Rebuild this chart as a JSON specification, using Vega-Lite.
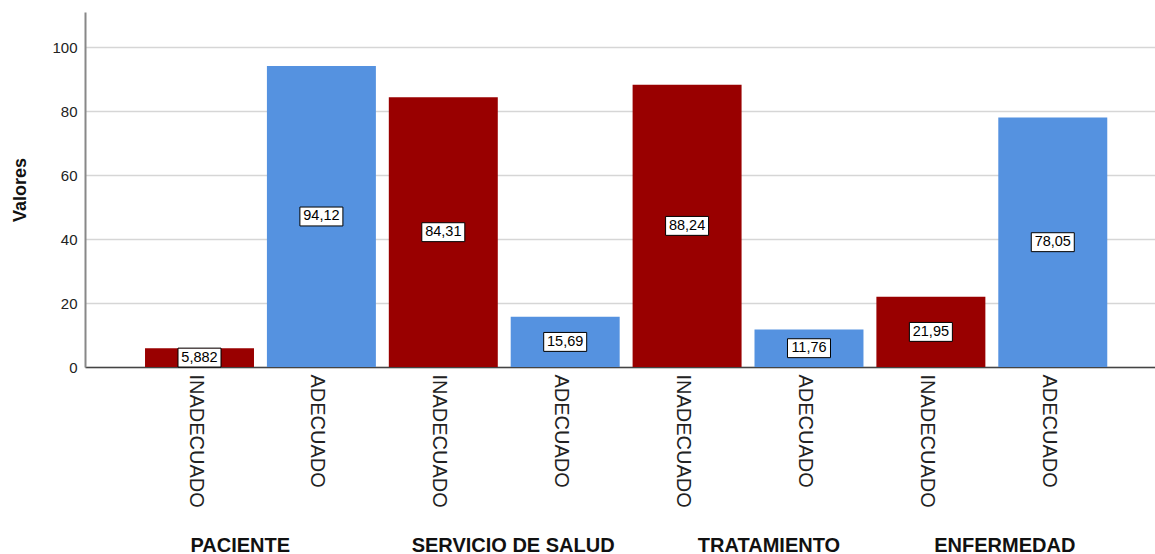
{
  "$schema": "https://vega.github.io/schema/vega-lite/v6.json",
  "width": 1070,
  "height": 355,
  "autosize": {"type": "none"},
  "padding": {"left": 85, "top": 12, "right": 0, "bottom": 187},
  "background": "white",
  "config": {
    "view": {"stroke": null},
    "font": "Liberation Sans"
  },
  "layer": [
    {
      "data": {
        "values": [
          {"clave": "PACIENTE|INADECUADO", "grupo": "PACIENTE", "categoria": "INADECUADO", "valor": 5.882, "etiqueta": "5,882"},
          {"clave": "PACIENTE|ADECUADO", "grupo": "PACIENTE", "categoria": "ADECUADO", "valor": 94.12, "etiqueta": "94,12"},
          {"clave": "SERVICIO DE SALUD|INADECUADO", "grupo": "SERVICIO DE SALUD", "categoria": "INADECUADO", "valor": 84.31, "etiqueta": "84,31"},
          {"clave": "SERVICIO DE SALUD|ADECUADO", "grupo": "SERVICIO DE SALUD", "categoria": "ADECUADO", "valor": 15.69, "etiqueta": "15,69"},
          {"clave": "TRATAMIENTO|INADECUADO", "grupo": "TRATAMIENTO", "categoria": "INADECUADO", "valor": 88.24, "etiqueta": "88,24"},
          {"clave": "TRATAMIENTO|ADECUADO", "grupo": "TRATAMIENTO", "categoria": "ADECUADO", "valor": 11.76, "etiqueta": "11,76"},
          {"clave": "ENFERMEDAD|INADECUADO", "grupo": "ENFERMEDAD", "categoria": "INADECUADO", "valor": 21.95, "etiqueta": "21,95"},
          {"clave": "ENFERMEDAD|ADECUADO", "grupo": "ENFERMEDAD", "categoria": "ADECUADO", "valor": 78.05, "etiqueta": "78,05"}
        ]
      },
      "transform": [{"calculate": "datum.valor / 2", "as": "mitad"}],
      "encoding": {
        "x": {
          "field": "clave",
          "type": "nominal",
          "sort": null,
          "scale": {"paddingInner": 0.106, "paddingOuter": 0.442, "align": 0.557},
          "axis": {
            "orient": "bottom",
            "title": null,
            "labelExpr": "split(datum.value, '|')[1]",
            "labelAngle": 90,
            "labelAlign": "left",
            "labelBaseline": "middle",
            "labelFont": "Liberation Sans",
            "labelFontSize": 20,
            "labelColor": "#222222",
            "labelPadding": 7,
            "labelOffset": -4,
            "ticks": false,
            "domainColor": "#444444",
            "domainWidth": 1.5,
            "grid": false
          }
        }
      },
      "layer": [
        {
          "mark": {"type": "bar"},
          "encoding": {
            "y": {
              "field": "valor",
              "type": "quantitative",
              "scale": {"domain": [0, 111], "nice": false},
              "axis": {
                "title": "Valores",
                "titleFont": "Liberation Sans",
                "titleFontSize": 18,
                "titleFontWeight": "bold",
                "titleColor": "#111111",
                "titlePadding": 22,
                "values": [0, 20, 40, 60, 80, 100],
                "labelFont": "Liberation Sans",
                "labelFontSize": 15,
                "labelColor": "#222222",
                "labelPadding": 8,
                "ticks": false,
                "domainColor": "#888888",
                "domainWidth": 2,
                "gridColor": "#d6d6d6",
                "gridWidth": 1.5
              }
            },
            "color": {
              "field": "categoria",
              "type": "nominal",
              "scale": {"domain": ["INADECUADO", "ADECUADO"], "range": ["#990000", "#5592e0"]},
              "legend": null
            }
          }
        },
        {
          "mark": {
            "type": "point",
            "shape": "M-1,-0.44L1,-0.44L1,0.44L-1,0.44Z",
            "size": 1849,
            "filled": true,
            "fill": "white",
            "stroke": "black",
            "strokeWidth": 1,
            "opacity": 1
          },
          "encoding": {
            "y": {"field": "mitad", "type": "quantitative"}
          }
        },
        {
          "mark": {"type": "text", "font": "Liberation Sans", "fontSize": 14.5, "color": "black", "baseline": "middle", "align": "center"},
          "encoding": {
            "y": {"field": "mitad", "type": "quantitative"},
            "text": {"field": "etiqueta"}
          }
        }
      ]
    },
    {
      "data": {
        "values": [
          {"grupo": "PACIENTE"},
          {"grupo": "SERVICIO DE SALUD"},
          {"grupo": "TRATAMIENTO"},
          {"grupo": "ENFERMEDAD"}
        ]
      },
      "mark": {"type": "point", "opacity": 0},
      "encoding": {
        "x": {
          "field": "grupo",
          "type": "nominal",
          "sort": null,
          "scale": {"type": "band", "paddingInner": 0, "paddingOuter": 0.194, "align": 0.564},
          "axis": {
            "orient": "bottom",
            "title": null,
            "offset": 168,
            "labelAngle": 0,
            "labelFont": "Liberation Sans",
            "labelFontSize": 20,
            "labelFontWeight": "bold",
            "labelColor": "#111111",
            "labelPadding": 0,
            "labelLimit": 0,
            "labelBaseline": "top",
            "labelAlign": "center",
            "labelOffset": {
              "condition": [
                {"test": "datum.value === 'PACIENTE'", "value": -20},
                {"test": "datum.value === 'SERVICIO DE SALUD'", "value": 9},
                {"test": "datum.value === 'TRATAMIENTO'", "value": 21}
              ],
              "value": 13
            },
            "domain": false,
            "ticks": false,
            "grid": false
          }
        },
        "y": {"datum": 0, "type": "quantitative"}
      }
    }
  ],
  "resolve": {"scale": {"x": "independent"}, "axis": {"x": "independent"}}
}
